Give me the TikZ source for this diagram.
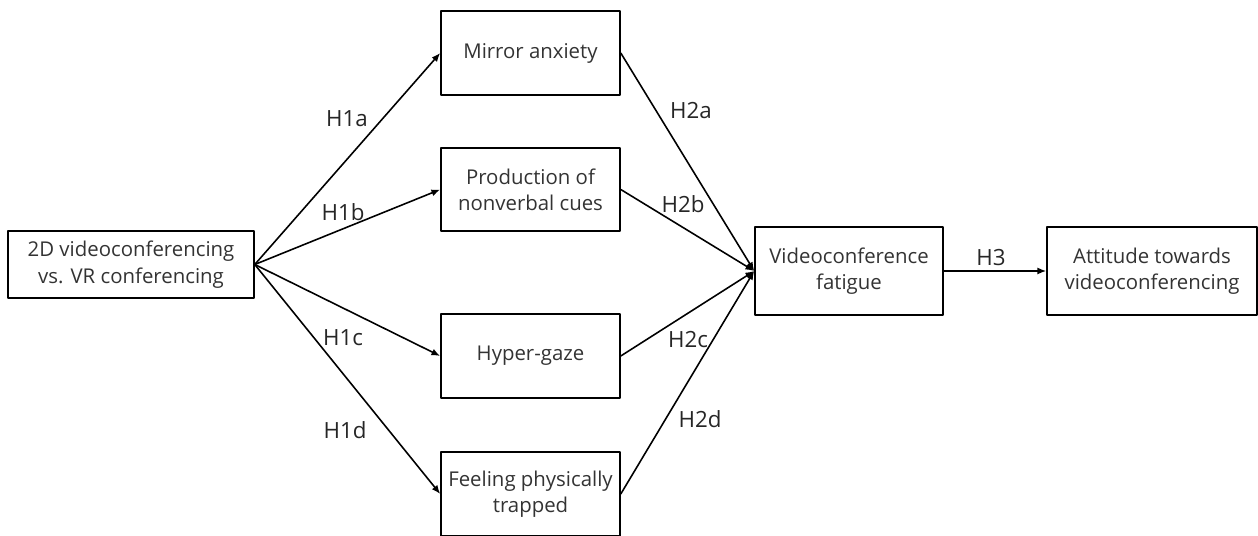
\documentclass[tikz,border=0pt]{standalone}
\usepackage{fontspec}
\setmainfont{Open Sans}
\usetikzlibrary{arrows.meta}

\begin{document}
\begin{tikzpicture}[x=0.02cm, y=-0.02cm, line join = round,
    box/.style = {draw, line width=0.9pt, align=center, inner sep=0pt,
                  font=\fontsize{11.6}{15}\selectfont, text=black!80},
    hyp/.style = {font=\fontsize{12.7}{14}\selectfont, text=black!85},
    link/.style = {-{Latex[length=5pt, width=4pt]}, line width=0.9pt}]
    \useasboundingbox (0,0) rectangle (1258,536);

    \node[box, minimum width=4.92cm, minimum height=1.34cm] (src) at (131,264.5)
        {2D videoconferencing\\vs. VR conferencing};

    \node[box, minimum width=3.58cm, minimum height=1.68cm] (mirror) at (530.5,53) {Mirror anxiety};
    \node[box, minimum width=3.58cm, minimum height=1.66cm] (prod) at (530.5,189.5) {Production of\\nonverbal cues};
    \node[box, minimum width=3.58cm, minimum height=1.68cm] (gaze) at (530.5,356) {Hyper-gaze};
    \node[box, minimum width=3.58cm, minimum height=1.68cm] (trap) at (530.5,494) {Feeling physically\\trapped};

    \node[box, minimum width=3.76cm, minimum height=1.76cm] (fatigue) at (849,271) {Videoconference\\fatigue};
    \node[box, minimum width=4.2cm, minimum height=1.76cm] (att) at (1152,271) {Attitude towards\\videoconferencing};

    %\draw[help lines] (0,0) grid[step=50] (1258,536);
    \foreach \i in {mirror,prod,gaze,trap}
    {
        \draw[link] (src.east) -- (\i.west);
        \draw[link] (\i.east) -- (fatigue.west);
    }
    \draw[link] (fatigue.east) -- (att.west);

    \node[hyp] (h1a) at (347,119) {H1a};
    \node[hyp] (h1b) at (343,212) {H1b};
    \node[hyp] (h1c) at (343,338) {H1c};
    \node[hyp] (h1d) at (345,430) {H1d};
    \node[hyp] (h2a) at (691,111) {H2a};
    \node[hyp] (h2b) at (683,204) {H2b};
    \node[hyp] (h2c) at (688,340) {H2c};
    \node[hyp] (h2d) at (700,419) {H2d};
    \node[hyp] (h3) at (991,258) {H3};
\end{tikzpicture}
\end{document}
